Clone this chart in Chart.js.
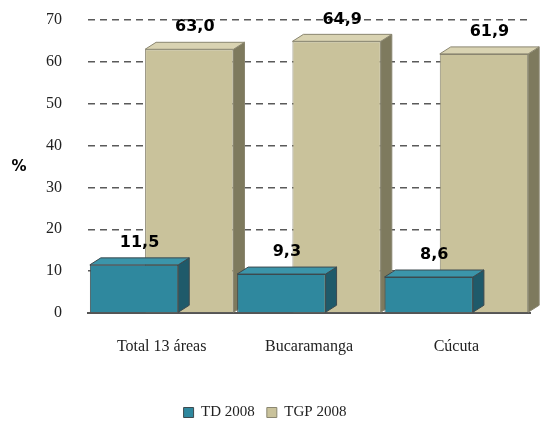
<!DOCTYPE html>
<html>
<head>
<meta charset="utf-8">
<script src="https://cdn.jsdelivr.net/npm/chart.js@4.4.1/dist/chart.umd.min.js"></script>
<style>
  html, body { margin: 0; padding: 0; background: #fff; }
  #wrap { width: 542px; height: 430px; }
</style>
</head>
<body>
<div id="wrap"><canvas id="barChart"></canvas></div>
<script>
// Datos
const categorias = ['Total 13 áreas', 'Bucaramanga', 'Cúcuta'];
const td2008 = [11.5, 9.3, 8.6];
const tgp2008 = [63.0, 64.9, 61.9];
const ticksY = [0, 10, 20, 30, 40, 50, 60, 70];

const colores = {
    td: { front: '#2f889e', side: '#1f5a6a', top: '#3b95aa', border: '#3d4a4f' },
    tgp: { front: '#c9c29b', side: '#7e7a5e', top: '#d9d3b2', border: '#8a8670' }
};

// Caras laterales y superiores para simular el efecto 3D
const DX = 11, DY = -7;
const efecto3d = {
    id: 'efecto3d',
    afterDatasetDraw(chart, args) {
        const ctx = chart.ctx;
        const c = args.index === 0 ? colores.td : colores.tgp;
        args.meta.data.forEach(bar => {
            const p = bar.getProps(['x', 'y', 'base', 'width'], true);
            const l = p.x - p.width / 2, r = p.x + p.width / 2;
            ctx.save();
            ctx.lineWidth = 1;
            ctx.strokeStyle = c.border;
            // lado derecho
            ctx.beginPath();
            ctx.moveTo(r, p.y);
            ctx.lineTo(r + DX, p.y + DY);
            ctx.lineTo(r + DX, p.base + DY);
            ctx.lineTo(r, p.base);
            ctx.closePath();
            ctx.fillStyle = c.side;
            ctx.fill();
            ctx.stroke();
            // tapa
            ctx.beginPath();
            ctx.moveTo(l, p.y);
            ctx.lineTo(r, p.y);
            ctx.lineTo(r + DX, p.y + DY);
            ctx.lineTo(l + DX, p.y + DY);
            ctx.closePath();
            ctx.fillStyle = c.top;
            ctx.fill();
            ctx.stroke();
            ctx.restore();
        });
    },
    afterDraw(chart) {
        const ctx = chart.ctx;
        ctx.save();
        ctx.fillStyle = '#000';
        ctx.font = 'bold 16px "DejaVu Sans", sans-serif';
        ctx.textAlign = 'center';
        ctx.textBaseline = 'bottom';
        chart.data.datasets.forEach((ds, i) => {
            chart.getDatasetMeta(i).data.forEach((bar, j) => {
                const txt = ds.data[j].toFixed(1).replace('.', ',');
                ctx.fillText(txt, bar.x + DX / 2, bar.y + DY - 7);
            });
        });
        // titulo del eje y
        ctx.font = 'bold 15px "DejaVu Sans", sans-serif';
        ctx.textBaseline = 'middle';
        ctx.fillText('%', 19, 167);
        ctx.restore();
    }
};

var ctxBar = document.getElementById('barChart').getContext('2d');
new Chart(ctxBar, {
    type: 'bar',
    data: {
        labels: categorias,
        datasets: [{
            label: 'TD 2008',
            data: td2008,
            backgroundColor: colores.td.front,
            borderColor: colores.td.border,
            borderWidth: 1
        }, {
            label: 'TGP 2008',
            data: tgp2008,
            backgroundColor: colores.tgp.front,
            borderColor: colores.tgp.border,
            borderWidth: 1
        }]
    },
    options: {
        responsive: true,
        maintainAspectRatio: false,
        animation: false,
        layout: { padding: { top: 20, right: 12, left: 0, bottom: 0 } },
        datasets: {
            bar: { categoryPercentage: 0.75, barPercentage: 1.6 }
        },
        scales: {
            x: {
                grid: { display: false },
                border: { display: true, color: '#555', width: 2 },
                ticks: {
                    color: '#222',
                    padding: 16,
                    font: { family: '"Liberation Serif", serif', size: 16 }
                },
                afterFit(scale) { scale.height = 80; }
            },
            y: {
                min: 0,
                max: 70,
                afterBuildTicks(scale) { scale.ticks = ticksY.map(v => ({ value: v })); },
                grid: { color: '#5a5a5a', lineWidth: 1.5, drawTicks: false },
                border: { display: false, dash: [7, 5] },
                ticks: {
                    color: '#222',
                    padding: 26,
                    font: { family: '"Liberation Serif", serif', size: 16 }
                },
                afterFit(scale) {
                    scale.width = 88;
                    scale.paddingTop = 0;
                    scale.paddingBottom = 0;
                }
            }
        },
        plugins: {
            legend: {
                position: 'bottom',
                labels: {
                    color: '#222',
                    boxWidth: 10,
                    boxHeight: 10,
                    padding: 12,
                    font: { family: '"Liberation Serif", serif', size: 15 }
                }
            },
            tooltip: { enabled: false }
        }
    },
    plugins: [efecto3d]
});
</script>
</body>
</html>
